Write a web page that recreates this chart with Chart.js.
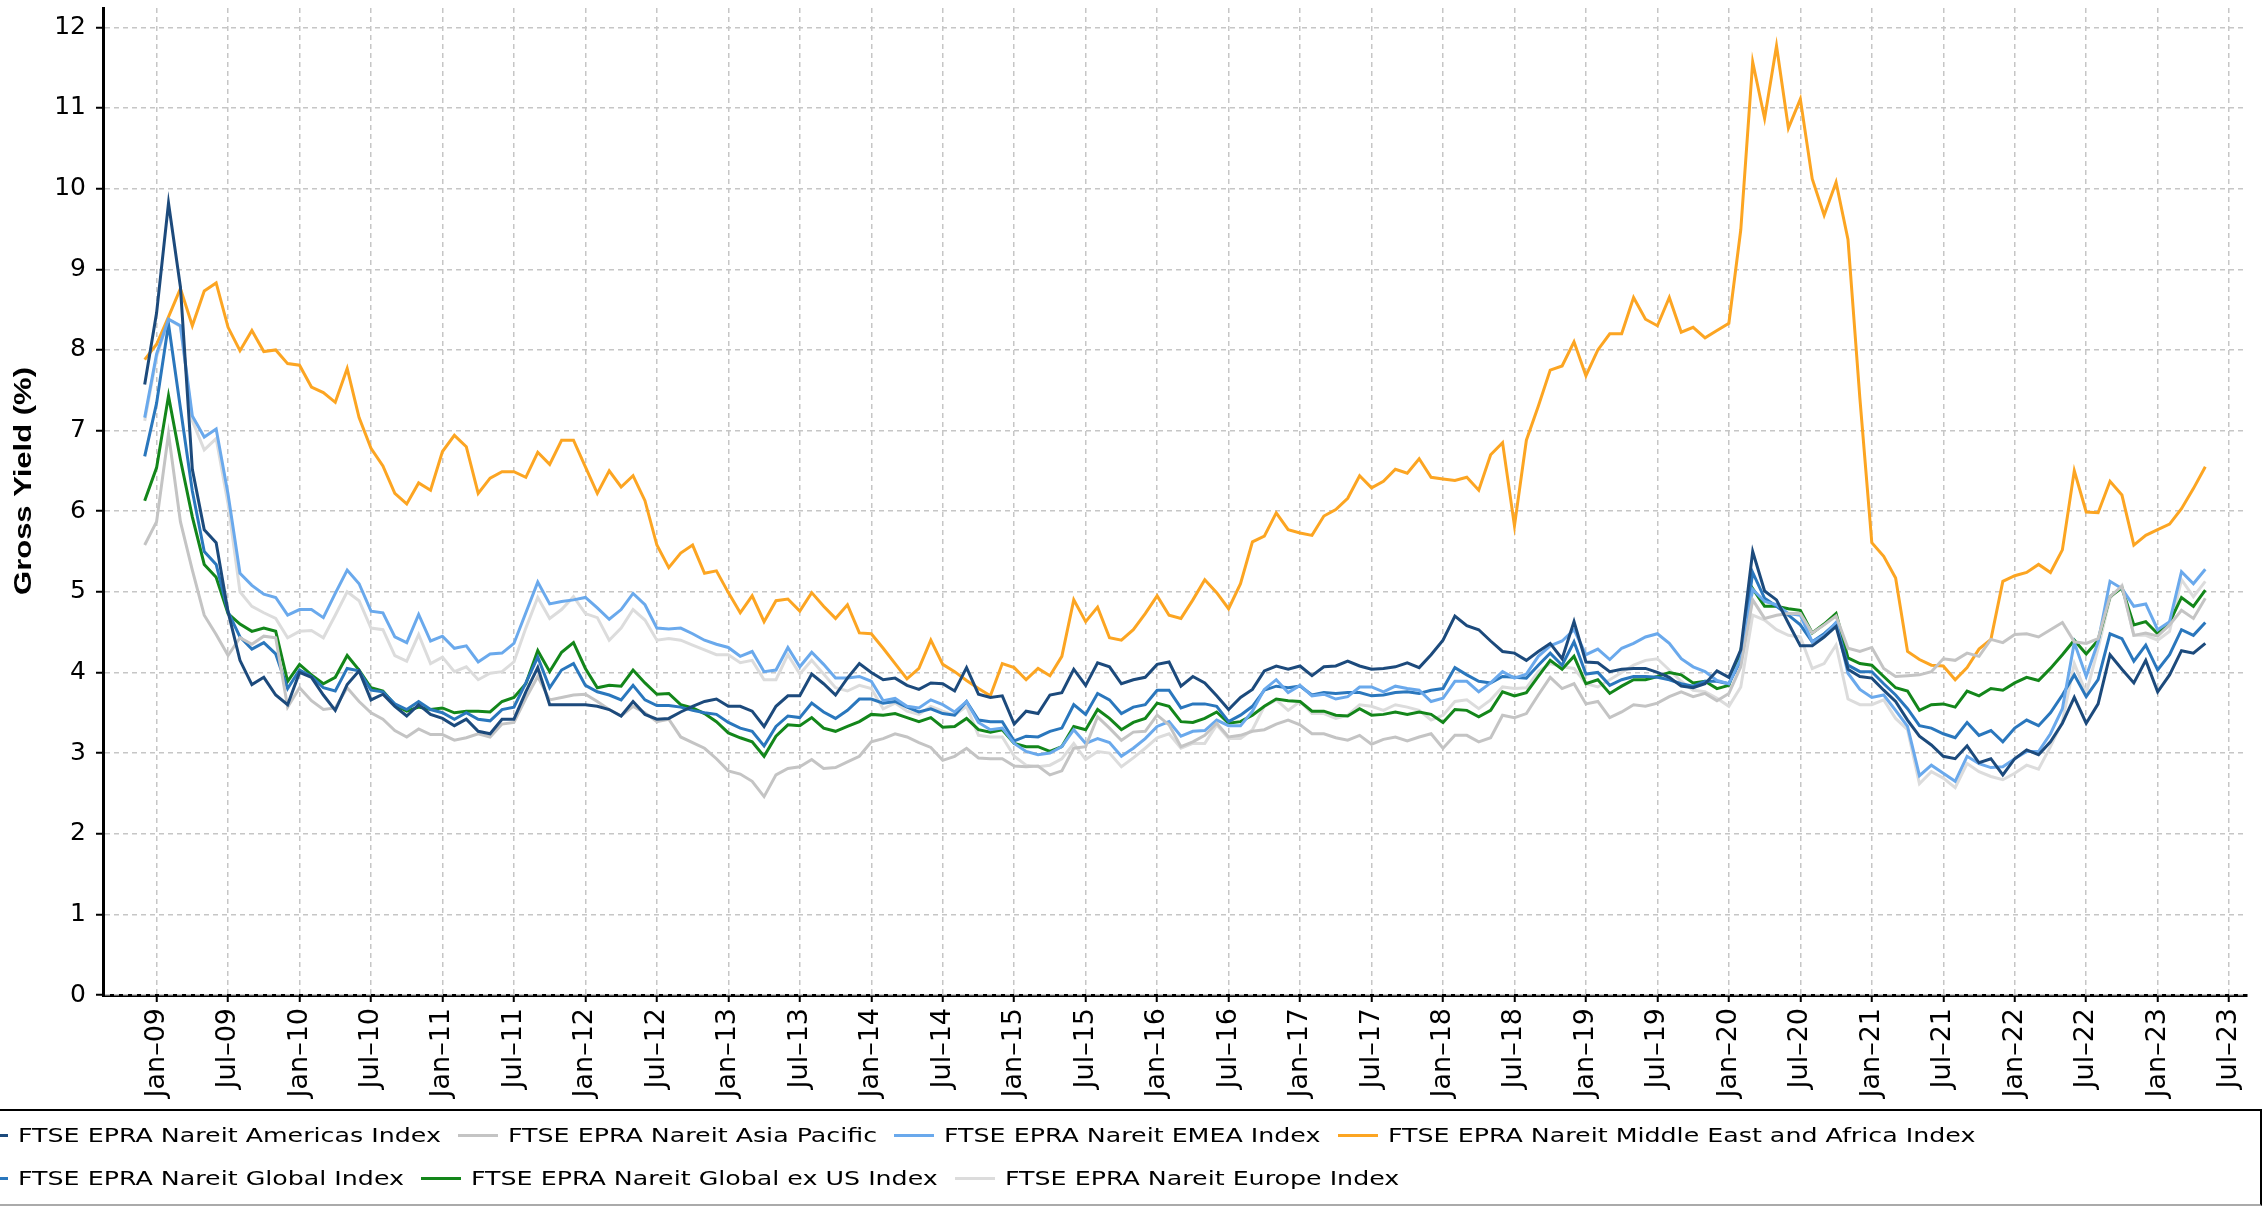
<!DOCTYPE html>
<html>
<head>
<meta charset="utf-8">
<script src="https://cdn.jsdelivr.net/npm/chart.js@4.4.1/dist/chart.umd.min.js"></script>
<style>
  body { margin: 0; background: #fff; overflow: hidden; }
  #wrap { position: relative; width: 2268px; height: 1206px; }
  #chart { position: absolute; left: 0; top: 0; }
  #legendBox {
    position: absolute; left: -100px; top: 1109px; width: 2362px; height: 97px;
    box-sizing: border-box; border: 2px solid #000; border-bottom-color: #aaa;
  }
  .lg-line { position: absolute; height: 3px; width: 40px; }
  .lg-text {
    position: absolute; white-space: nowrap; font: 20px "DejaVu Sans"; color: #000;
    transform-origin: left center; transform: scaleX(1.265); line-height: 24px;
  }
</style>
</head>
<body>
<div id="wrap">
  <canvas id="chart" width="2268" height="1206"></canvas>
  <div id="legendBox"></div>
</div>
<script>
// monthly gross yields (%), Dec-08 .. May-23, month 0 = Jan-09
var firstMonth = -1;

var americas = [
  7.57, 8.46, 9.82, 8.78, 6.52, 5.77, 5.61, 4.75, 4.15, 3.85, 3.94, 3.72, 3.60, 4.00, 3.94, 3.72, 3.53, 3.85, 4.02, 3.66,
  3.73, 3.58, 3.46, 3.60, 3.48, 3.43, 3.34, 3.42, 3.27, 3.24, 3.42, 3.42, 3.76, 4.06, 3.60, 3.60, 3.60, 3.60, 3.58, 3.54,
  3.46, 3.64, 3.48,
  3.42, 3.43, 3.51, 3.58, 3.64, 3.67, 3.58, 3.58, 3.52, 3.33, 3.58, 3.71, 3.71, 3.98, 3.86, 3.72, 3.93, 4.11, 4.00, 3.91,
  3.93, 3.84, 3.79, 3.87, 3.86, 3.77, 4.06, 3.73, 3.69, 3.71, 3.36, 3.52, 3.49, 3.72, 3.75, 4.04, 3.84, 4.12, 4.07, 3.86,
  3.91, 3.94, 4.10, 4.13, 3.83, 3.95, 3.87, 3.71, 3.54, 3.69, 3.79, 4.02, 4.08, 4.04,
  4.08, 3.96, 4.07, 4.08, 4.14, 4.08, 4.04, 4.05, 4.07, 4.12, 4.06, 4.22, 4.40, 4.70, 4.58, 4.53, 4.39, 4.26, 4.24, 4.15,
  4.26, 4.36, 4.17, 4.63, 4.13, 4.12, 4.01, 4.04, 4.05, 4.05, 4.00, 3.94, 3.83, 3.81, 3.86, 4.02, 3.94,
  4.28, 5.50, 5.01, 4.90, 4.61, 4.33, 4.33, 4.44, 4.57, 4.04, 3.95, 3.93, 3.78, 3.64, 3.41, 3.21, 3.10, 2.96, 2.93, 3.09,
  2.88, 2.93, 2.73, 2.93, 3.04, 2.98, 3.14, 3.37, 3.69, 3.37, 3.61, 4.22, 4.04, 3.87, 4.15, 3.76, 3.97, 4.27, 4.24, 4.36
];

var asiaPacific = [
  5.58, 5.87, 6.96, 5.87, 5.27, 4.71, 4.47, 4.21, 4.43, 4.35, 4.45, 4.43, 3.57, 3.81, 3.65, 3.54, 3.56, 3.81, 3.64, 3.50,
  3.42, 3.28, 3.20, 3.30, 3.23, 3.23, 3.16, 3.19, 3.24, 3.20, 3.36, 3.38, 3.68, 3.95, 3.66, 3.69, 3.72, 3.73, 3.64, 3.54,
  3.46, 3.58, 3.50,
  3.39, 3.42, 3.20, 3.13, 3.06, 2.93, 2.78, 2.74, 2.65, 2.46, 2.73, 2.81, 2.83, 2.92, 2.81, 2.82, 2.89, 2.96, 3.14, 3.18,
  3.24, 3.20, 3.13, 3.07, 2.91, 2.96, 3.06, 2.94, 2.93, 2.93, 2.84, 2.83, 2.84, 2.73, 2.78, 3.06, 3.08, 3.45, 3.31, 3.16,
  3.26, 3.27, 3.47, 3.35, 3.08, 3.14, 3.22, 3.37, 3.20, 3.22, 3.27, 3.29, 3.36, 3.41,
  3.35, 3.24, 3.24, 3.19, 3.16, 3.22, 3.11, 3.17, 3.20, 3.15, 3.20, 3.24, 3.06, 3.22, 3.22, 3.14, 3.19, 3.47, 3.44, 3.49,
  3.72, 3.94, 3.80, 3.86, 3.61, 3.64, 3.44, 3.51, 3.60, 3.58, 3.62, 3.70, 3.76, 3.70, 3.74, 3.65, 3.74,
  4.07, 4.90, 4.67, 4.71, 4.73, 4.73, 4.49, 4.59, 4.70, 4.30, 4.26, 4.31, 4.05, 3.95, 3.96, 3.97, 4.01, 4.17, 4.15, 4.24,
  4.20, 4.41, 4.37, 4.47, 4.48, 4.44, 4.53, 4.62, 4.38, 4.36, 4.42, 4.94, 5.07, 4.46, 4.49, 4.45, 4.59, 4.77, 4.67, 4.92
];

var emea = [
  7.16, 7.95, 8.38, 8.30, 7.18, 6.92, 7.02, 6.21, 5.23, 5.08, 4.97, 4.93, 4.71, 4.78, 4.78, 4.68, 4.98, 5.27, 5.10, 4.76,
  4.74, 4.44, 4.37, 4.72, 4.39, 4.45, 4.30, 4.33, 4.13, 4.23, 4.24, 4.36, 4.74, 5.12, 4.85, 4.88, 4.90, 4.93, 4.80, 4.66,
  4.78, 4.98, 4.84,
  4.55, 4.54, 4.55, 4.48, 4.40, 4.35, 4.31, 4.20, 4.26, 4.01, 4.03, 4.31, 4.07, 4.25, 4.10, 3.93, 3.93, 3.95, 3.89, 3.65,
  3.68, 3.58, 3.56, 3.66, 3.60, 3.51, 3.64, 3.38, 3.29, 3.31, 3.12, 3.02, 2.98, 3.00, 3.08, 3.29, 3.12, 3.18, 3.13, 2.96,
  3.06, 3.18, 3.33, 3.39, 3.21, 3.27, 3.28, 3.41, 3.34, 3.34, 3.52, 3.79, 3.91, 3.75,
  3.84, 3.71, 3.73, 3.67, 3.70, 3.82, 3.82, 3.76, 3.83, 3.80, 3.78, 3.64, 3.68, 3.89, 3.89, 3.76, 3.87, 4.01, 3.93, 3.98,
  4.20, 4.33, 4.39, 4.53, 4.22, 4.29, 4.16, 4.30, 4.36, 4.44, 4.48, 4.36, 4.17, 4.07, 4.01, 3.90, 3.86,
  4.17, 5.03, 4.88, 4.84, 4.73, 4.71, 4.38, 4.46, 4.62, 3.99, 3.79, 3.69, 3.72, 3.53, 3.33, 2.72, 2.85, 2.75, 2.65, 2.96,
  2.87, 2.82, 2.83, 2.93, 3.02, 3.02, 3.24, 3.55, 4.37, 3.95, 4.38, 5.13, 5.04, 4.82, 4.85, 4.53, 4.63, 5.25, 5.10, 5.28
];

var middleEastAfrica = [
  7.88, 8.07, 8.41, 8.76, 8.30, 8.73, 8.83, 8.28, 7.99, 8.24, 7.98, 8.00, 7.83, 7.81, 7.54, 7.47, 7.35, 7.77, 7.16, 6.78,
  6.56, 6.22, 6.09, 6.35, 6.26, 6.74, 6.94, 6.80, 6.22, 6.41, 6.49, 6.49, 6.42, 6.73, 6.58, 6.88, 6.88, 6.55, 6.22, 6.50,
  6.30, 6.44, 6.13,
  5.58, 5.30, 5.48, 5.58, 5.23, 5.26, 4.99, 4.74, 4.95, 4.63, 4.89, 4.91, 4.76, 4.99, 4.82, 4.67, 4.84, 4.49, 4.48, 4.30,
  4.11, 3.92, 4.05, 4.40, 4.10, 4.01, 3.90, 3.80, 3.71, 4.11, 4.06, 3.91, 4.05, 3.96, 4.20, 4.90, 4.63, 4.81, 4.43, 4.40,
  4.53, 4.73, 4.95, 4.71, 4.67, 4.90, 5.15, 4.99, 4.79, 5.10, 5.62, 5.69, 5.98, 5.77,
  5.73, 5.70, 5.94, 6.02, 6.16, 6.44, 6.29, 6.37, 6.52, 6.47, 6.65, 6.42, 6.40, 6.38, 6.42, 6.26, 6.70, 6.85, 5.82, 6.88,
  7.30, 7.75, 7.80, 8.10, 7.68, 8.00, 8.20, 8.20, 8.65, 8.38, 8.30, 8.65, 8.22, 8.28, 8.15, 8.24, 8.33,
  9.49, 11.57, 10.87, 11.77, 10.75, 11.11, 10.12, 9.67, 10.08, 9.37, 7.40, 5.61, 5.44, 5.17, 4.26, 4.16, 4.09, 4.08, 3.91, 4.06,
  4.29, 4.41, 5.13, 5.20, 5.24, 5.34, 5.24, 5.52, 6.50, 5.99, 5.98, 6.37, 6.20, 5.58, 5.70, 5.77, 5.84, 6.03, 6.28, 6.55
];

var globalIdx = [
  6.68, 7.34, 8.32, 7.28, 6.25, 5.50, 5.34, 4.75, 4.44, 4.29, 4.37, 4.23, 3.80, 4.03, 3.95, 3.81, 3.77, 4.05, 4.02, 3.78,
  3.76, 3.61, 3.54, 3.64, 3.54, 3.50, 3.42, 3.50, 3.42, 3.40, 3.54, 3.57, 3.87, 4.19, 3.81, 4.03, 4.11, 3.84, 3.76, 3.72,
  3.66, 3.84, 3.66,
  3.59, 3.59, 3.57, 3.53, 3.50, 3.48, 3.38, 3.31, 3.27, 3.09, 3.33, 3.46, 3.44, 3.62, 3.51, 3.43, 3.53, 3.67, 3.67, 3.62,
  3.64, 3.57, 3.51, 3.55, 3.49, 3.47, 3.64, 3.41, 3.39, 3.39, 3.15, 3.21, 3.20, 3.27, 3.31, 3.60, 3.48, 3.74, 3.66, 3.49,
  3.57, 3.60, 3.78, 3.78, 3.56, 3.61, 3.61, 3.58, 3.39, 3.47, 3.58, 3.78, 3.83, 3.81,
  3.83, 3.72, 3.75, 3.74, 3.75, 3.75, 3.71, 3.72, 3.75, 3.76, 3.74, 3.78, 3.80, 4.06, 3.97, 3.89, 3.87, 3.95, 3.94, 3.93,
  4.09, 4.24, 4.09, 4.38, 3.98, 4.00, 3.84, 3.91, 3.95, 3.95, 3.94, 3.91, 3.86, 3.83, 3.89, 3.89, 3.86,
  4.15, 5.24, 4.92, 4.82, 4.71, 4.59, 4.38, 4.48, 4.61, 4.09, 4.01, 4.01, 3.86, 3.72, 3.55, 3.34, 3.31, 3.24, 3.19, 3.38,
  3.22, 3.28, 3.14, 3.31, 3.41, 3.34, 3.50, 3.72, 3.97, 3.70, 3.91, 4.48, 4.42, 4.14, 4.34, 4.03, 4.22, 4.53, 4.46, 4.62
];

var globalExUS = [
  6.13, 6.54, 7.43, 6.64, 5.93, 5.34, 5.18, 4.73, 4.60, 4.51, 4.55, 4.51, 3.89, 4.10, 3.97, 3.86, 3.94, 4.21, 4.03, 3.81,
  3.77, 3.60, 3.52, 3.57, 3.54, 3.56, 3.50, 3.52, 3.52, 3.51, 3.64, 3.69, 3.86, 4.27, 4.01, 4.25, 4.37, 4.05, 3.81, 3.84,
  3.83, 4.03, 3.87,
  3.73, 3.74, 3.60, 3.56, 3.49, 3.39, 3.25, 3.19, 3.14, 2.96, 3.21, 3.35, 3.34, 3.44, 3.31, 3.27, 3.33, 3.39, 3.48, 3.47,
  3.49, 3.44, 3.39, 3.44, 3.32, 3.33, 3.43, 3.29, 3.26, 3.29, 3.12, 3.08, 3.08, 3.02, 3.08, 3.33, 3.29, 3.54, 3.43, 3.29,
  3.38, 3.43, 3.62, 3.58, 3.39, 3.38, 3.43, 3.51, 3.37, 3.39, 3.47, 3.58, 3.67, 3.65,
  3.64, 3.52, 3.52, 3.47, 3.46, 3.55, 3.47, 3.48, 3.51, 3.48, 3.51, 3.48, 3.38, 3.54, 3.53, 3.45, 3.53, 3.76, 3.71, 3.75,
  3.95, 4.15, 4.04, 4.20, 3.86, 3.91, 3.74, 3.83, 3.91, 3.91, 3.95, 4.00, 3.97, 3.87, 3.89, 3.80, 3.84,
  4.27, 5.04, 4.82, 4.82, 4.79, 4.77, 4.49, 4.60, 4.73, 4.18, 4.11, 4.09, 3.95, 3.81, 3.77, 3.53, 3.60, 3.61, 3.57, 3.77,
  3.71, 3.80, 3.78, 3.87, 3.94, 3.90, 4.05, 4.22, 4.40, 4.23, 4.40, 4.94, 5.05, 4.59, 4.63, 4.48, 4.62, 4.93, 4.82, 5.02
];

var europe = [
  7.12, 7.91, 8.38, 8.29, 7.12, 6.76, 6.90, 6.09, 5.00, 4.82, 4.74, 4.67, 4.43, 4.51, 4.52, 4.43, 4.71, 5.00, 4.89, 4.55,
  4.53, 4.21, 4.14, 4.47, 4.11, 4.19, 4.01, 4.07, 3.91, 3.99, 4.01, 4.13, 4.55, 4.93, 4.67, 4.78, 4.94, 4.73, 4.68, 4.40,
  4.55, 4.78, 4.65,
  4.40, 4.42, 4.40, 4.34, 4.28, 4.22, 4.22, 4.12, 4.15, 3.91, 3.91, 4.22, 3.98, 4.15, 3.98, 3.81, 3.77, 3.84, 3.80, 3.55,
  3.62, 3.52, 3.48, 3.58, 3.52, 3.47, 3.58, 3.22, 3.20, 3.20, 2.96, 2.85, 2.83, 2.85, 2.93, 3.12, 2.92, 3.02, 3.00, 2.83,
  2.94, 3.06, 3.19, 3.24, 3.06, 3.12, 3.12, 3.35, 3.18, 3.18, 3.29, 3.58, 3.66, 3.53,
  3.64, 3.49, 3.49, 3.43, 3.47, 3.60, 3.58, 3.53, 3.60, 3.57, 3.53, 3.41, 3.47, 3.64, 3.66, 3.55, 3.66, 3.82, 3.80, 3.81,
  4.01, 4.11, 4.07, 4.05, 3.86, 3.82, 3.91, 4.00, 4.09, 4.15, 4.17, 4.03, 3.89, 3.78, 3.76, 3.68, 3.58,
  3.82, 4.71, 4.65, 4.53, 4.46, 4.44, 4.05, 4.11, 4.34, 3.67, 3.60, 3.60, 3.66, 3.43, 3.29, 2.62, 2.77, 2.69, 2.57, 2.87,
  2.77, 2.71, 2.67, 2.75, 2.85, 2.80, 3.08, 3.39, 4.11, 3.74, 4.30, 4.92, 5.08, 4.46, 4.46, 4.40, 4.51, 5.15, 4.94, 5.13
];

var xTickLabels = [
  'Jan–09', 'Jul–09', 'Jan–10', 'Jul–10', 'Jan–11', 'Jul–11', 'Jan–12', 'Jul–12', 'Jan–13', 'Jul–13',
  'Jan–14', 'Jul–14', 'Jan–15', 'Jul–15', 'Jan–16', 'Jul–16', 'Jan–17', 'Jul–17', 'Jan–18', 'Jul–18',
  'Jan–19', 'Jul–19', 'Jan–20', 'Jul–20', 'Jan–21', 'Jul–21', 'Jan–22', 'Jul–22', 'Jan–23', 'Jul–23'
];
var yTicks = [0, 1, 2, 3, 4, 5, 6, 7, 8, 9, 10, 11, 12];
var yTitle = 'Gross Yield (%)';

var series = [
  { name: 'FTSE EPRA Nareit Americas Index', data: americas, color: '#1c4a7c' },
  { name: 'FTSE EPRA Nareit Asia Pacific', data: asiaPacific, color: '#c4c4c4' },
  { name: 'FTSE EPRA Nareit EMEA Index', data: emea, color: '#6aa9ec' },
  { name: 'FTSE EPRA Nareit Middle East and Africa Index', data: middleEastAfrica, color: '#fca522' },
  { name: 'FTSE EPRA Nareit Global Index', data: globalIdx, color: '#2a77bd' },
  { name: 'FTSE EPRA Nareit Global ex US Index', data: globalExUS, color: '#13861a' },
  { name: 'FTSE EPRA Nareit Europe Index', data: europe, color: '#dcdcdc' }
];

var gridStyle = { color: '#c6c6c6', lineWidth: 1.5, tickLength: 7, tickColor: '#000', tickWidth: 2 };
var borderStyle = { color: '#000', width: 3, dash: [5, 4], z: -1 };

// y axis title, drawn a little above the plot centre like the original (narrow bold face)
var yTitlePlugin = {
  id: 'yTitle',
  afterDraw: function (chart) {
    var ctx = chart.ctx;
    ctx.save();
    ctx.translate(24, 481);
    ctx.rotate(-Math.PI / 2);
    ctx.scale(1, 0.8);
    ctx.font = 'bold 31px "Liberation Sans"';
    ctx.fillStyle = '#000';
    ctx.textAlign = 'center';
    ctx.textBaseline = 'middle';
    ctx.fillText(yTitle, 0, 0);
    ctx.restore();
  }
};

new Chart(document.getElementById('chart'), {
  type: 'line',
  data: {
    datasets: series.map(function (s) {
      return {
        label: s.name,
        data: s.data.map(function (v, i) { return { x: firstMonth + i, y: v }; }),
        borderColor: s.color,
        backgroundColor: s.color,
        borderWidth: 3,
        pointRadius: 0,
        tension: 0,
        fill: false
      };
    })
  },
  options: {
    responsive: false,
    animation: false,
    devicePixelRatio: 1,
    layout: { padding: { top: 8, right: 21, bottom: 0, left: 0 } },
    plugins: { legend: { display: false }, tooltip: { enabled: false } },
    scales: {
      x: {
        type: 'linear',
        min: -4.5,
        max: 175.5,
        afterBuildTicks: function (s) { s.ticks = xTickLabels.map(function (_, i) { return { value: i * 6 }; }); },
        afterFit: function (s) { s.height = 211; s.paddingLeft = 0; s.paddingRight = 0; },
        ticks: {
          autoSkip: false, minRotation: 90, maxRotation: 90, padding: 6, color: '#000',
          font: { family: 'DejaVu Sans', size: 27 },
          callback: function (v) { return xTickLabels[Math.round(v / 6)]; }
        },
        grid: gridStyle,
        border: borderStyle
      },
      y: {
        min: 0,
        max: 12.24,
        afterBuildTicks: function (s) { s.ticks = yTicks.map(function (v) { return { value: v }; }); },
        afterFit: function (s) { s.width = 103; s.paddingTop = 0; s.paddingBottom = 0; },
        ticks: { padding: 10, color: '#000', font: { family: 'DejaVu Sans', size: 25 } },
        grid: gridStyle,
        border: borderStyle
      }
    }
  },
  plugins: [yTitlePlugin]
});

// legend: two rows, laid out left to right, first swatch partly off the page
var legendRows = [[0, 1, 2, 3], [4, 5, 6]];
var rowCenters = [1135, 1178];
var textScale = 1.265;
var wrap = document.getElementById('wrap');
legendRows.forEach(function (row, r) {
  var x = -32;
  row.forEach(function (idx) {
    var s = series[idx];
    var line = document.createElement('div');
    line.className = 'lg-line';
    line.style.background = s.color;
    line.style.left = x + 'px';
    line.style.top = (rowCenters[r] - 1.5) + 'px';
    wrap.appendChild(line);

    var txt = document.createElement('div');
    txt.className = 'lg-text';
    txt.textContent = s.name;
    txt.style.left = (x + 50) + 'px';
    txt.style.top = (rowCenters[r] - 12) + 'px';
    wrap.appendChild(txt);

    x += 50 + txt.offsetWidth * textScale + 17;
  });
});
</script>
</body>
</html>
